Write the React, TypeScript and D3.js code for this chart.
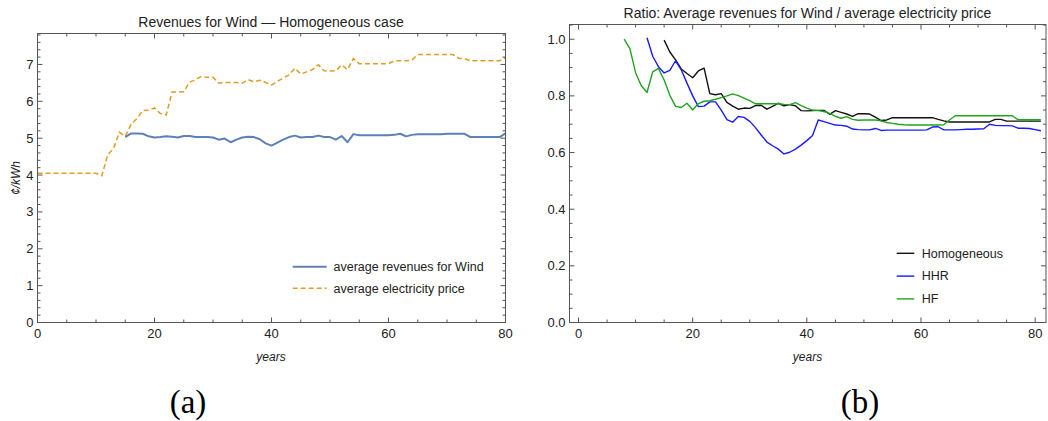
import React from "react";
import * as d3 from "d3";

// Left panel: yearly averages in ¢/kWh
const priceStartYear = 0;
const electricityPrice = [
  4.05, 4.05, 4.05, 4.05, 4.05, 4.05, 4.05, 4.05, 4.05, 4.05, 4.05,
  3.98, 4.55, 4.72, 5.16, 5.05, 5.38, 5.53, 5.75, 5.76, 5.82,
  5.67, 5.63, 6.25, 6.25, 6.26, 6.52, 6.58, 6.68, 6.65, 6.65,
  6.49, 6.51, 6.51, 6.51, 6.49, 6.59, 6.53, 6.57, 6.51, 6.44,
  6.54, 6.63, 6.72, 6.9, 6.74, 6.8, 6.86, 6.99, 6.83, 6.82,
  6.83, 6.99, 6.86, 7.16, 7.02, 7.02, 7.02, 7.02, 7.02, 7.02,
  7.1, 7.1, 7.1, 7.12, 7.27, 7.27, 7.27, 7.27, 7.27, 7.27,
  7.27, 7.17, 7.16, 7.1, 7.1, 7.1, 7.1, 7.1, 7.1, 7.18,
];
const windStartYear = 15;
const windRevenue = [
  5.03, 5.13, 5.13, 5.12, 5.05, 5.02,
  5.03, 5.05, 5.04, 5.02, 5.06, 5.06, 5.03, 5.03, 5.03, 5.02,
  4.96, 4.99, 4.89, 4.96, 5.02, 5.04, 5.03, 4.97, 4.86, 4.8,
  4.88, 4.96, 5.03, 5.07, 5.02, 5.03, 5.03, 5.07, 5.03, 5.03,
  4.96, 5.06, 4.89, 5.11, 5.08, 5.08, 5.08, 5.08, 5.08, 5.08,
  5.09, 5.12, 5.05, 5.09, 5.11, 5.11, 5.11, 5.11, 5.11, 5.12,
  5.12, 5.12, 5.12, 5.03, 5.03, 5.03, 5.03, 5.03, 5.03, 5.13,
];

// Right panel: ratio of average wind revenues to average electricity price
const homogeneousStartYear = 15;
const ratioHomogeneous = [
  0.997, 0.955, 0.927, 0.895, 0.879, 0.864,
  0.888, 0.898, 0.808, 0.804, 0.808, 0.777, 0.764, 0.753, 0.757, 0.756,
  0.766, 0.767, 0.753, 0.763, 0.774, 0.765, 0.769, 0.765, 0.748, 0.747,
  0.748, 0.749, 0.749, 0.735, 0.748, 0.742, 0.736, 0.728, 0.737, 0.737,
  0.736, 0.725, 0.713, 0.715, 0.723, 0.723, 0.723, 0.723, 0.723, 0.723,
  0.723, 0.723, 0.717, 0.712, 0.708, 0.708, 0.708, 0.708, 0.708, 0.708,
  0.708, 0.708, 0.717, 0.717, 0.711, 0.711, 0.711, 0.711, 0.711, 0.711,
  0.711,
];
const hhrStartYear = 12;
const ratioHHR = [
  1.005, 0.94, 0.903, 0.881, 0.89, 0.924, 0.892, 0.845, 0.8,
  0.762, 0.764, 0.779, 0.779, 0.75, 0.716, 0.707, 0.727, 0.724, 0.71,
  0.688, 0.662, 0.637, 0.624, 0.612, 0.595, 0.601, 0.612, 0.626, 0.642,
  0.66, 0.715, 0.709, 0.703, 0.697, 0.696, 0.693, 0.683, 0.681, 0.68,
  0.68, 0.685, 0.678, 0.679, 0.679, 0.679, 0.679, 0.679, 0.679, 0.679,
  0.68, 0.69, 0.691, 0.68, 0.68, 0.68, 0.681, 0.682, 0.682, 0.683,
  0.684, 0.7, 0.696, 0.695, 0.695, 0.694, 0.686, 0.686, 0.685, 0.681,
  0.677,
];
const hfStartYear = 8;
const ratioHF = [
  1.0, 0.967, 0.882, 0.836, 0.812, 0.885, 0.897, 0.856, 0.802, 0.763, 0.759, 0.774, 0.75,
  0.773, 0.781, 0.783, 0.788, 0.794, 0.8, 0.807, 0.801, 0.792, 0.783,
  0.772, 0.772, 0.772, 0.772, 0.772, 0.77, 0.769, 0.776, 0.766, 0.757,
  0.75, 0.748, 0.745, 0.738, 0.728, 0.721, 0.727, 0.717, 0.714, 0.715,
  0.715, 0.715, 0.712, 0.706, 0.703, 0.7, 0.698, 0.697, 0.697, 0.697,
  0.697, 0.697, 0.697, 0.698, 0.715, 0.73, 0.73, 0.73, 0.73, 0.73,
  0.73, 0.73, 0.73, 0.73, 0.73, 0.73, 0.716, 0.716, 0.716, 0.716,
  0.716,
];

const xTickValues = [0, 20, 40, 60, 80];
const yTicksLeft = [0, 1, 2, 3, 4, 5, 6, 7];
const yTicksRight = [0, 0.2, 0.4, 0.6, 0.8, 1.0];

const leftTitle = "Revenues for Wind \u2014 Homogeneous case";
const rightTitle = "Ratio: Average revenues for Wind / average electricity price";
const leftLegend = ["average revenues for Wind", "average electricity price"];
const rightLegend = ["Homogeneous", "HHR", "HF"];

const SANS = "'Liberation Sans', Arial, Helvetica, sans-serif";
const SERIF = "'Liberation Serif', 'Times New Roman', serif";
const FRAME = "#555";
const LABEL = "#222";

type Pt = [number, number];
const toPoints = (start: number, values: number[]): Pt[] =>
  values.map((v, i) => [start + i, v] as Pt);

type FrameProps = {
  x: d3.ScaleLinear<number, number>;
  y: d3.ScaleLinear<number, number>;
  xMinor: number[];
  xMajor: number[];
  yMinor: number[];
  yMajor: number[];
  fmt: (v: number) => string;
};

function Frame({ x, y, xMinor, xMajor, yMinor, yMajor, fmt }: FrameProps) {
  const [x0, x1] = x.range();
  const [y0, y1] = y.range(); // y0 bottom, y1 top
  const major = 5;
  const minor = 3;
  return (
    <g>
      <rect x={x0} y={y1} width={x1 - x0} height={y0 - y1} fill="none" stroke={FRAME} strokeWidth={1} />
      {xMinor.map((t) => {
        const len = xMajor.includes(t) ? major : minor;
        const px = x(t);
        return (
          <g key={"xt" + t}>
            <line x1={px} x2={px} y1={y0} y2={y0 - len} stroke={FRAME} />
            <line x1={px} x2={px} y1={y1} y2={y1 + len} stroke={FRAME} />
          </g>
        );
      })}
      {yMinor.map((t, i) => {
        const len = yMajor.some((m) => Math.abs(m - t) < 1e-9) ? major : minor;
        const py = y(t);
        return (
          <g key={"yt" + i}>
            <line x1={x0} x2={x0 + len} y1={py} y2={py} stroke={FRAME} />
            <line x1={x1} x2={x1 - len} y1={py} y2={py} stroke={FRAME} />
          </g>
        );
      })}
      {xMajor.map((t) => (
        <text key={"xl" + t} x={x(t)} y={y0 + 15} textAnchor="middle" fontSize={13} fill={LABEL} fontFamily={SANS}>
          {String(t)}
        </text>
      ))}
      {yMajor.map((t) => (
        <text key={"yl" + t} x={x0 - 4} y={y(t)} dy="0.35em" textAnchor="end" fontSize={13} fill={LABEL} fontFamily={SANS}>
          {fmt(t)}
        </text>
      ))}
    </g>
  );
}

export default function App() {
  // Left panel scales
  const xL = d3.scaleLinear().domain([0, 80]).range([37.5, 505.5]);
  const yL = d3.scaleLinear().domain([0, 7.84]).range([322.5, 33.5]);
  // Right panel scales
  const xR = d3.scaleLinear().domain([-1.58, 81.9]).range([569.5, 1046]);
  const yR = d3.scaleLinear().domain([0, 1.052]).range([322.5, 24.5]);

  const lineL = d3.line<Pt>().x((d) => xL(d[0])).y((d) => yL(d[1]));
  const lineR = d3.line<Pt>().x((d) => xR(d[0])).y((d) => yR(d[1]));

  const yearTicks = d3.range(0, 81, 5);
  const yMinorL = d3.range(0, 7.81, 0.2);
  const yMinorR = d3.range(0, 1.051, 0.05);

  const rightSeries = [
    { name: rightLegend[0], color: "#111111", pts: toPoints(homogeneousStartYear, ratioHomogeneous) },
    { name: rightLegend[1], color: "#1a1aff", pts: toPoints(hhrStartYear, ratioHHR) },
    { name: rightLegend[2], color: "#1fa51f", pts: toPoints(hfStartYear, ratioHF) },
  ];

  return (
    <svg width={1048} height={421} style={{ position: "absolute", left: 0, top: 0, background: "#fff" }}>
      {/* ---- left panel ---- */}
      <text x={271} y={27} textAnchor="middle" fontSize={14} fill={LABEL} fontFamily={SANS}>
        {leftTitle}
      </text>
      <path d={lineL(toPoints(priceStartYear, electricityPrice)) ?? ""} fill="none" stroke="#E19C24" strokeWidth={1.5} strokeDasharray="5,3" />
      <path d={lineL(toPoints(windStartYear, windRevenue)) ?? ""} fill="none" stroke="#5E81B5" strokeWidth={2} strokeLinejoin="round" />
      <Frame x={xL} y={yL} xMinor={yearTicks} xMajor={xTickValues} yMinor={yMinorL} yMajor={yTicksLeft} fmt={(v) => String(v)} />
      <text transform="translate(20,178) rotate(-90)" textAnchor="middle" fontSize={12} fontStyle="italic" fill={LABEL} fontFamily={SANS}>
        ¢/kWh
      </text>
      <text x={271} y={361} textAnchor="middle" fontSize={12} fontStyle="italic" fill={LABEL} fontFamily={SANS}>
        years
      </text>
      <line x1={292.7} x2={326.7} y1={266.7} y2={266.7} stroke="#5E81B5" strokeWidth={2} />
      <line x1={292.7} x2={326.7} y1={288.3} y2={288.3} stroke="#E19C24" strokeWidth={1.5} strokeDasharray="5,3" />
      <text x={333.5} y={266.7} dy="0.35em" fontSize={12.5} fill={LABEL} fontFamily={SANS}>
        {leftLegend[0]}
      </text>
      <text x={333.5} y={288.3} dy="0.35em" fontSize={12.5} fill={LABEL} fontFamily={SANS}>
        {leftLegend[1]}
      </text>
      <text x={188} y={413} textAnchor="middle" fontSize={33} fill="#000" fontFamily={SERIF}>
        (a)
      </text>

      {/* ---- right panel ---- */}
      <text x={807.5} y={17.5} textAnchor="middle" fontSize={14} fill={LABEL} fontFamily={SANS}>
        {rightTitle}
      </text>
      {rightSeries.map((s) => (
        <path key={s.name} d={lineR(s.pts) ?? ""} fill="none" stroke={s.color} strokeWidth={1.4} strokeLinejoin="round" />
      ))}
      <Frame x={xR} y={yR} xMinor={yearTicks} xMajor={xTickValues} yMinor={yMinorR} yMajor={yTicksRight} fmt={d3.format(".1f")} />
      <text x={807.5} y={361} textAnchor="middle" fontSize={12} fontStyle="italic" fill={LABEL} fontFamily={SANS}>
        years
      </text>
      {rightSeries.map((s, i) => {
        const ly = 253.3 + i * 22.8;
        return (
          <g key={"lg" + s.name}>
            <line x1={896.7} x2={914.3} y1={ly} y2={ly} stroke={s.color} strokeWidth={1.4} />
            <text x={921.7} y={ly} dy="0.35em" fontSize={12.5} fill={LABEL} fontFamily={SANS}>
              {s.name}
            </text>
          </g>
        );
      })}
      <text x={860} y={413} textAnchor="middle" fontSize={33} fill="#000" fontFamily={SERIF}>
        (b)
      </text>
    </svg>
  );
}
